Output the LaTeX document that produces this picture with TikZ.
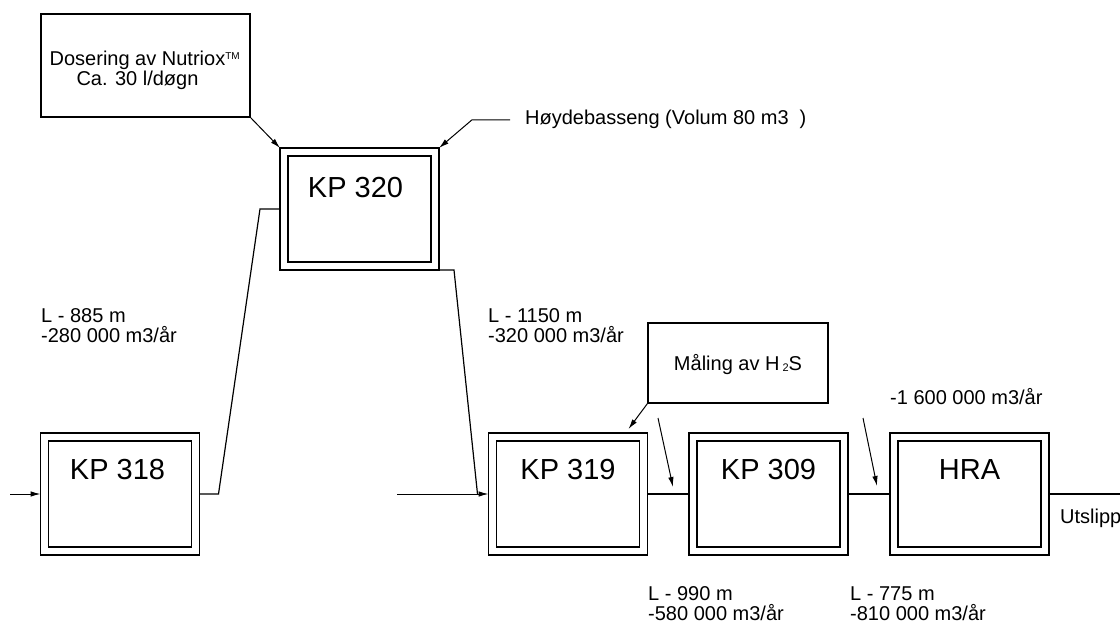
\documentclass[tikz,border=0pt]{standalone}
\usepackage{fontspec}
\setmainfont{Liberation Sans}
\usetikzlibrary{arrows.meta}
\newcommand\lblfont{\fontsize{20}{20}\selectfont}
\newcommand\kpfont{\fontsize{29}{30}\selectfont}
\begin{document}
\begin{tikzpicture}[x=1pt,y=-1pt,
  station/.style={draw, double, double distance=6.8pt, line width=1.2pt,
    minimum width=151pt, inner sep=0pt, outer sep=4pt,
    text height=42pt, text depth=72pt, font=\kpfont},
  infobox/.style={draw, line width=1.2pt, inner sep=0pt, font=\lblfont, align=center},
  lbl/.style={font=\lblfont, inner sep=0pt, anchor=base west, align=left},
  pipe/.style={line width=1.2pt},
  arr/.style={line width=1pt, -{Latex[length=10pt,width=5.5pt]}}
]
\useasboundingbox (0,0) rectangle (1120,623);
\fill[white] (0,0) rectangle (1120,623);

% stations
\node[station, text height=46pt, text depth=68pt] (kp320) at (359.5,209) {KP 320\hspace*{8pt}};
\node[station] (kp318) at (120,494) {KP 318\hspace*{5pt}};
\node[station] (kp319) at (568,494) {KP 319};
\node[station] (kp309) at (768.5,494) {KP 309};
\node[station] (hra) at (969.5,494) {HRA};

% info boxes
\node[infobox, minimum width=209pt, minimum height=103pt] (dos) at (145.5,65.5)
  {\rule{0pt}{25pt}Dosering av Nutriox\rlap{\raisebox{6pt}{\fontsize{10}{10}\selectfont TM}}\hspace*{16pt}\\Ca. 30 l/døgn\hspace*{16pt}};
\node[infobox, minimum width=180pt, minimum height=80pt] (mal) at (738,363)
  {\rule{0pt}{20pt}Måling av H\kern3pt\raisebox{-1pt}{\fontsize{11}{11}\selectfont 2}S};
\node[lbl] (hoy) at (525,125) {Høydebasseng (Volum 80 m3\ \ )};

% labels
\node[lbl] (l885) at (41,342) {L - 885 m\\-280 000 m3/år};
\node[lbl] (l1150) at (488,342) {L - 1150 m\\-320 000 m3/år};
\node[lbl] (l1600) at (890,404) {-1 600 000 m3/år};
\node[lbl] (l990) at (648,620) {L - 990 m\\-580 000 m3/år};
\node[lbl] (l775) at (850,620) {L - 775 m\\-810 000 m3/år};
\node[lbl] (uts) at (1060,523) {Utslipp};

% free ends
\coordinate (in1) at (10,494);
\coordinate (in2) at (397,494);
\coordinate (out) at (1120,494);
\coordinate (h1s) at (658,418);
\coordinate (h1e) at (673,487);
\coordinate (h2s) at (863,418);
\coordinate (h2e) at (877,486);

% pipes
\draw[arr] (in1) -- (kp318.west);
\draw[pipe] (kp318.east) -- ++(19,0) -- ([xshift=-20pt]kp320.west) -- (kp320.west);
\draw[pipe] (kp320.south east) -- ++(15,0) -- ([xshift=-11pt]kp319.west);
\draw[arr] (in2) -- (kp319.west);
\draw[pipe] (kp319.east) -- (kp309.west);
\draw[pipe] (kp309.east) -- (hra.west);
\draw[pipe] (hra.east) -- (out);

% pointers
\draw[arr] (dos.south east) -- (kp320.north west);
\draw[arr] ([xshift=-15pt]hoy.west) -- ++(-38,0) -- (kp320.north east);
\draw[arr] (mal.south west) -- ([xshift=-19pt,yshift=4pt]kp319.north east);
\draw[arr] (h1s) -- (h1e);
\draw[arr] (h2s) -- (h2e);
\end{tikzpicture}
\end{document}
